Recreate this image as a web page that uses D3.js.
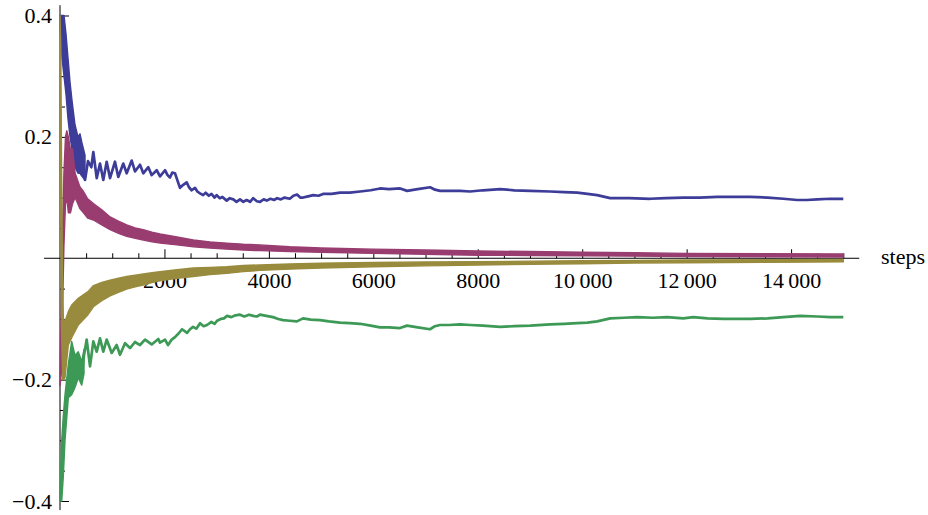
<!DOCTYPE html>
<html>
<head>
<meta charset="utf-8">
<script src="https://cdn.jsdelivr.net/npm/d3@7"></script>
<style>
  html, body { margin: 0; padding: 0; background: #fff; }
  svg { display: block; }
</style>
</head>
<body>
<svg id="chart" width="928" height="515"></svg>
<script>
// Four running averages plotted against simulation steps.
// Early, fast-oscillating stretches are stored as bands: [step, low, high].
// Settled stretches are stored as single values: [step, value].

const blueBand = [
  [0, 0.38, 0.40], [38, 0.33, 0.40], [77, 0.30, 0.40], [115, 0.27, 0.37],
  [153, 0.23, 0.33], [192, 0.20, 0.29], [230, 0.18, 0.26], [287, 0.15, 0.22],
  [345, 0.14, 0.20], [383, 0.14, 0.205], [421, 0.135, 0.19], [479, 0.129, 0.17]
];

const blueLine = [
  [421, 0.16], [479, 0.129], [536, 0.16], [600, 0.150], [638, 0.175], [703, 0.132],
  [766, 0.156], [829, 0.129], [894, 0.159], [958, 0.132], [1053, 0.159],
  [1116, 0.134], [1212, 0.156], [1277, 0.140], [1373, 0.161], [1436, 0.143],
  [1532, 0.154], [1595, 0.140], [1691, 0.150], [1756, 0.137], [1852, 0.145],
  [1915, 0.135], [2011, 0.145], [2060, 0.137], [2106, 0.133], [2150, 0.141],
  [2202, 0.140], [2250, 0.128], [2298, 0.116], [2360, 0.121], [2426, 0.125],
  [2470, 0.117], [2521, 0.112], [2585, 0.116], [2630, 0.110], [2681, 0.107],
  [2740, 0.104], [2790, 0.108], [2850, 0.103], [2900, 0.106], [2960, 0.100],
  [3000, 0.104], [3060, 0.099], [3110, 0.101], [3192, 0.095], [3250, 0.099],
  [3319, 0.097], [3380, 0.093], [3447, 0.097], [3510, 0.093], [3575, 0.096],
  [3640, 0.093], [3700, 0.099], [3770, 0.094], [3830, 0.093], [3900, 0.097],
  [3960, 0.095], [4030, 0.098], [4100, 0.096], [4157, 0.099], [4230, 0.097],
  [4300, 0.100], [4400, 0.098], [4470, 0.103], [4540, 0.105], [4600, 0.100],
  [4655, 0.100], [4750, 0.102], [4850, 0.104], [4950, 0.103], [5038, 0.106],
  [5200, 0.106], [5364, 0.108], [5550, 0.108], [5747, 0.110], [5950, 0.112],
  [6130, 0.115], [6300, 0.114], [6513, 0.115], [6648, 0.111], [6850, 0.114],
  [7088, 0.117], [7180, 0.113], [7280, 0.111], [7450, 0.111], [7663, 0.111],
  [7854, 0.110], [8100, 0.112], [8429, 0.114], [8700, 0.112], [9004, 0.111],
  [9387, 0.110], [9650, 0.109], [9904, 0.108], [10100, 0.106], [10287, 0.104],
  [10536, 0.099], [10900, 0.099], [11303, 0.098], [11600, 0.099], [11935, 0.100],
  [12250, 0.100], [12586, 0.101], [12900, 0.101], [13218, 0.101], [13550, 0.100],
  [13851, 0.098], [14119, 0.096], [14300, 0.096], [14502, 0.097], [14750, 0.098],
  [15000, 0.098]
];

const magentaBand = [
  [0, -0.21, -0.19], [25, -0.19, -0.08], [50, -0.08, 0.05], [75, 0.02, 0.14],
  [105, 0.09, 0.20], [130, 0.10, 0.21], [160, 0.075, 0.20], [200, 0.075, 0.18],
  [240, 0.09, 0.18], [290, 0.10, 0.14], [380, 0.082, 0.118], [450, 0.075, 0.11],
  [530, 0.066, 0.098], [640, 0.063, 0.090], [800, 0.055, 0.080], [960, 0.047, 0.068],
  [1120, 0.041, 0.061], [1277, 0.036, 0.055], [1440, 0.033, 0.050],
  [1595, 0.030, 0.047], [1760, 0.027, 0.043], [1915, 0.025, 0.040],
  [2240, 0.022, 0.035], [2553, 0.019, 0.030], [2870, 0.017, 0.027],
  [3192, 0.015, 0.025], [3510, 0.0135, 0.023], [3830, 0.0125, 0.022],
  [4400, 0.011, 0.019], [5000, 0.010, 0.017], [6000, 0.008, 0.015],
  [7000, 0.0065, 0.0135], [8000, 0.005, 0.012], [9000, 0.0045, 0.011],
  [10000, 0.004, 0.010], [11000, 0.0035, 0.009], [12000, 0.003, 0.008],
  [13500, 0.0025, 0.0075], [15000, 0.002, 0.007]
];

const goldBand = [
  [0, 0.30, 0.40], [15, 0.10, 0.35], [30, -0.12, 0.15], [50, -0.20, -0.05],
  [65, -0.20, -0.10], [96, -0.197, -0.104], [159, -0.143, -0.088],
  [224, -0.131, -0.077], [350, -0.110, -0.066], [536, -0.093, -0.055],
  [640, -0.080, -0.045], [800, -0.070, -0.040], [958, -0.062, -0.036],
  [1120, -0.056, -0.033], [1277, -0.051, -0.030], [1440, -0.047, -0.028],
  [1595, -0.044, -0.026], [1760, -0.040, -0.024], [1915, -0.037, -0.022],
  [2240, -0.033, -0.019], [2553, -0.030, -0.016], [2870, -0.027, -0.015],
  [3192, -0.025, -0.014], [3510, -0.022, -0.012], [3830, -0.020, -0.011],
  [4400, -0.018, -0.0095], [5000, -0.016, -0.008], [6000, -0.014, -0.007],
  [7000, -0.0125, -0.006], [8000, -0.011, -0.0055], [9000, -0.010, -0.0048],
  [10000, -0.009, -0.004], [11000, -0.008, -0.0035], [12000, -0.0075, -0.003],
  [13500, -0.0068, -0.0025], [15000, -0.006, -0.002]
];

const greenBand = [
  [0, -0.40, -0.38], [33, -0.40, -0.30], [63, -0.36, -0.26], [96, -0.30, -0.225],
  [159, -0.23, -0.175], [224, -0.225, -0.137], [287, -0.213, -0.16],
  [350, -0.197, -0.154], [416, -0.209, -0.170], [460, -0.19, -0.15]
];

const greenLine = [
  [416, -0.19], [460, -0.16], [511, -0.134], [575, -0.178], [638, -0.137],
  [703, -0.154], [766, -0.132], [829, -0.154], [894, -0.134], [990, -0.156],
  [1085, -0.143], [1149, -0.159], [1245, -0.140], [1341, -0.148], [1436, -0.138],
  [1532, -0.143], [1628, -0.134], [1756, -0.142], [1883, -0.133], [1915, -0.139],
  [2011, -0.134], [2069, -0.143], [2140, -0.134], [2202, -0.130], [2270, -0.124],
  [2337, -0.117], [2433, -0.123], [2490, -0.117], [2548, -0.113], [2610, -0.116],
  [2682, -0.107], [2750, -0.112], [2816, -0.110], [2900, -0.105], [2960, -0.108],
  [3008, -0.103], [3080, -0.100], [3140, -0.099], [3199, -0.095], [3280, -0.097],
  [3360, -0.094], [3447, -0.093], [3530, -0.096], [3620, -0.093], [3700, -0.095],
  [3773, -0.096], [3830, -0.093], [3950, -0.095], [4079, -0.097], [4180, -0.100],
  [4270, -0.102], [4400, -0.103], [4538, -0.104], [4653, -0.099], [4800, -0.101],
  [4979, -0.102], [5150, -0.104], [5362, -0.106], [5550, -0.107], [5745, -0.108],
  [5950, -0.111], [6128, -0.114], [6300, -0.114], [6511, -0.115], [6645, -0.111],
  [6850, -0.114], [7086, -0.117], [7180, -0.112], [7277, -0.110], [7450, -0.110],
  [7660, -0.109], [7854, -0.110], [8100, -0.111], [8429, -0.113], [8700, -0.112],
  [9004, -0.111], [9387, -0.109], [9650, -0.108], [9904, -0.107], [10100, -0.106],
  [10287, -0.104], [10536, -0.099], [10800, -0.098], [11054, -0.097],
  [11350, -0.098], [11628, -0.097], [11935, -0.099], [12126, -0.097],
  [12400, -0.099], [12701, -0.100], [13000, -0.100], [13218, -0.100],
  [13550, -0.099], [13851, -0.097], [14177, -0.095], [14502, -0.096],
  [14750, -0.097], [15000, -0.097]
];

const xMajorTicks = [2000, 4000, 6000, 8000, 10000, 12000, 14000];
const xTickLabels = ["2000", "4000", "6000", "8000", "10\u2009000", "12\u2009000", "14\u2009000"];
const xMinorTicks = d3.range(500, 15001, 500).filter(v => v % 2000 !== 0);
const yMajorTicks = [-0.4, -0.2, 0.2, 0.4];
const yTickLabels = ["\u22120.4", "\u22120.2", "0.2", "0.4"];
const yMinorTicks = [-0.35, -0.3, -0.25, -0.15, -0.1, -0.05, 0.05, 0.1, 0.15, 0.25, 0.3, 0.35];

const colors = {
  blue: "#3d3d99",
  magenta: "#993d71",
  gold: "#998b3d",
  green: "#3d9956"
};

// pick the first installed Times-like face
function pickSerif() {
  const candidates = ["Liberation Serif", "Tinos", "Times New Roman", "Times",
                      "DejaVu Serif", "Noto Serif", "FreeSerif", "Nimbus Roman"];
  const ctx = document.createElement("canvas").getContext("2d");
  const sample = "steps 0.4 12 000 wmWi";
  for (const fb of ["monospace", "sans-serif"]) {
    ctx.font = `22px ${fb}`;
    const base = ctx.measureText(sample).width;
    for (const name of candidates) {
      ctx.font = `22px "${name}", ${fb}`;
      if (Math.abs(ctx.measureText(sample).width - base) > 0.5) return `"${name}", serif`;
    }
  }
  return "serif";
}
const fontFamily = pickSerif();

const svg = d3.select("#chart");

const x = d3.scaleLinear().domain([0, 15000]).range([60, 843.3]);
const y = d3.scaleLinear().domain([-0.4, 0.4]).range([501, 15.5]);

// axis lines, with the usual small padding past the data range
svg.append("line")
  .attr("x1", x(-306)).attr("x2", x(15306))
  .attr("y1", y(0)).attr("y2", y(0))
  .attr("stroke", "#000").attr("stroke-width", 1);
svg.append("line")
  .attr("x1", x(0)).attr("x2", x(0))
  .attr("y1", y(0.417)).attr("y2", y(-0.415))
  .attr("stroke", "#000").attr("stroke-width", 1);

// x axis: ticks point up, labels below
const xAxisG = svg.append("g").attr("transform", `translate(0,${y(0)})`);
xAxisG.call(d3.axisBottom(x).tickValues(xMinorTicks).tickSizeInner(-5).tickSizeOuter(0).tickFormat(""));
xAxisG.call(g => g.select(".domain").remove());
const xMajorG = svg.append("g").attr("transform", `translate(0,${y(0)})`);
xMajorG.call(d3.axisBottom(x).tickValues(xMajorTicks).tickSizeInner(-9).tickSizeOuter(0)
  .tickPadding(14).tickFormat((d, i) => xTickLabels[i]));
xMajorG.call(g => g.select(".domain").remove());

// y axis: ticks point right, labels on the left
const yAxisG = svg.append("g").attr("transform", `translate(${x(0)},0)`);
yAxisG.call(d3.axisLeft(y).tickValues(yMinorTicks).tickSizeInner(-5).tickSizeOuter(0).tickFormat(""));
yAxisG.call(g => g.select(".domain").remove());
const yMajorG = svg.append("g").attr("transform", `translate(${x(0)},0)`);
yMajorG.call(d3.axisLeft(y).tickValues(yMajorTicks).tickSizeInner(-9).tickSizeOuter(0)
  .tickPadding(8).tickFormat((d, i) => yTickLabels[i]));
yMajorG.call(g => g.select(".domain").remove());

svg.selectAll("g").attr("font-family", fontFamily).attr("font-size", 22);
svg.selectAll(".tick line").attr("stroke", "#000").attr("stroke-width", 1);
svg.selectAll(".tick text").attr("fill", "#000");

// axis label
svg.append("text")
  .attr("x", 881).attr("y", y(0) + 6)
  .attr("fill", "#000")
  .attr("font-family", fontFamily)
  .attr("font-size", 22)
  .text("steps");

// series
const area = d3.area()
  .x(d => x(d[0]))
  .y0(d => y(d[1]))
  .y1(d => y(d[2]));
const line = d3.line()
  .x(d => x(d[0]))
  .y(d => y(d[1]));

const plot = svg.append("g");

function drawBand(data, color) {
  plot.append("path").datum(data)
    .attr("d", area)
    .attr("fill", color)
    .attr("stroke", color)
    .attr("stroke-width", 1.4)
    .attr("stroke-linejoin", "round");
}
function drawLine(data, color) {
  plot.append("path").datum(data)
    .attr("d", line)
    .attr("fill", "none")
    .attr("stroke", color)
    .attr("stroke-width", 2.7)
    .attr("stroke-linejoin", "round");
}

drawBand(blueBand, colors.blue);
drawLine(blueLine, colors.blue);
drawBand(magentaBand, colors.magenta);
drawBand(goldBand, colors.gold);
drawBand(greenBand, colors.green);
drawLine(greenLine, colors.green);
</script>
</body>
</html>
